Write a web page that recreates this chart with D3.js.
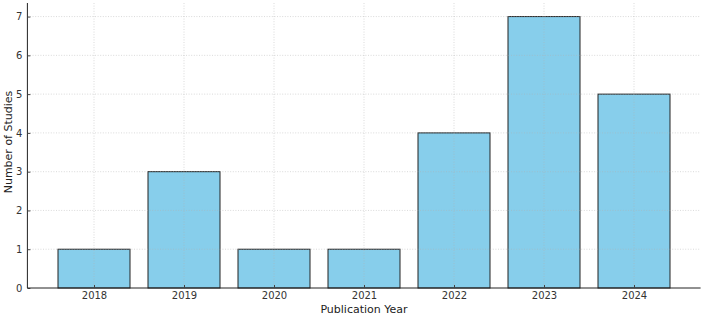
<!DOCTYPE html>
<html><head><meta charset="utf-8">
<script src="https://cdn.jsdelivr.net/npm/d3@7"></script>
<style>body{margin:0;background:#fff}svg{display:block}text{font-family:"DejaVu Sans",sans-serif}</style>
</head><body><svg id="c" width="704" height="317"></svg>
<script>
const years = ["2018","2019","2020","2021","2022","2023","2024"];
const counts = [1,3,1,1,4,7,5];
const yTicks = [0,1,2,3,4,5,6,7];

const W=704,H=317, L=27.4, R=700.6, T=3, B=288;
const svg=d3.select("#c");
const n=years.length;
const x=d3.scaleLinear().domain([-0.74,n-1+0.74]).range([L,R]);
const y=d3.scaleLinear().domain([0,7.35]).range([B,T]);
const bw=x(0.8)-x(0);

// bars
svg.append("g").selectAll("rect").data(counts).join("rect")
  .attr("x",(d,i)=>x(i-0.4)).attr("y",d=>y(d))
  .attr("width",bw).attr("height",d=>y(0)-y(d))
  .attr("fill","#87CEEB").attr("stroke","#222").attr("stroke-width",1);

// grid
const g=svg.append("g");
g.selectAll("line.h").data(yTicks.slice(1)).join("line")
  .attr("x1",L).attr("x2",R).attr("y1",d=>y(d)).attr("y2",d=>y(d))
  .attr("stroke","#b0b0b0").attr("stroke-opacity",0.6).attr("stroke-width",0.8).attr("stroke-dasharray","1,1.6");
g.selectAll("line.v").data(d3.range(n)).join("line")
  .attr("x1",d=>x(d)).attr("x2",d=>x(d)).attr("y1",T).attr("y2",B)
  .attr("stroke","#b0b0b0").attr("stroke-opacity",0.6).attr("stroke-width",0.8).attr("stroke-dasharray","1,1.6");

// axes
const ya=svg.append("g").attr("transform",`translate(${L},0)`)
  .call(d3.axisLeft(y).tickValues(yTicks).tickSize(-3).tickPadding(5).tickFormat(d3.format("d")));
const xa=svg.append("g").attr("transform",`translate(0,${B})`)
  .call(d3.axisBottom(x).tickValues(d3.range(n)).tickSize(-3).tickPadding(4).tickFormat(i=>years[i]));
[ya,xa].forEach(a=>{
  a.select(".domain").attr("stroke","#222").attr("stroke-width",1);
  a.selectAll(".tick line").attr("stroke","#444");
  a.selectAll(".tick text").attr("font-size",10).attr("fill","#333").attr("font-family","DejaVu Sans");
});
ya.select(".domain").attr("d",`M0,${B}V${T}`);
xa.select(".domain").attr("d",`M${L},0H${R}`);

svg.append("text").attr("x",(L+R)/2).attr("y",313).attr("text-anchor","middle")
  .attr("font-size",11).attr("fill","#222").text("Publication Year");
svg.append("text").attr("transform",`translate(12,142) rotate(-90)`).attr("text-anchor","middle")
  .attr("font-size",11).attr("fill","#222").text("Number of Studies");
</script></body></html>
